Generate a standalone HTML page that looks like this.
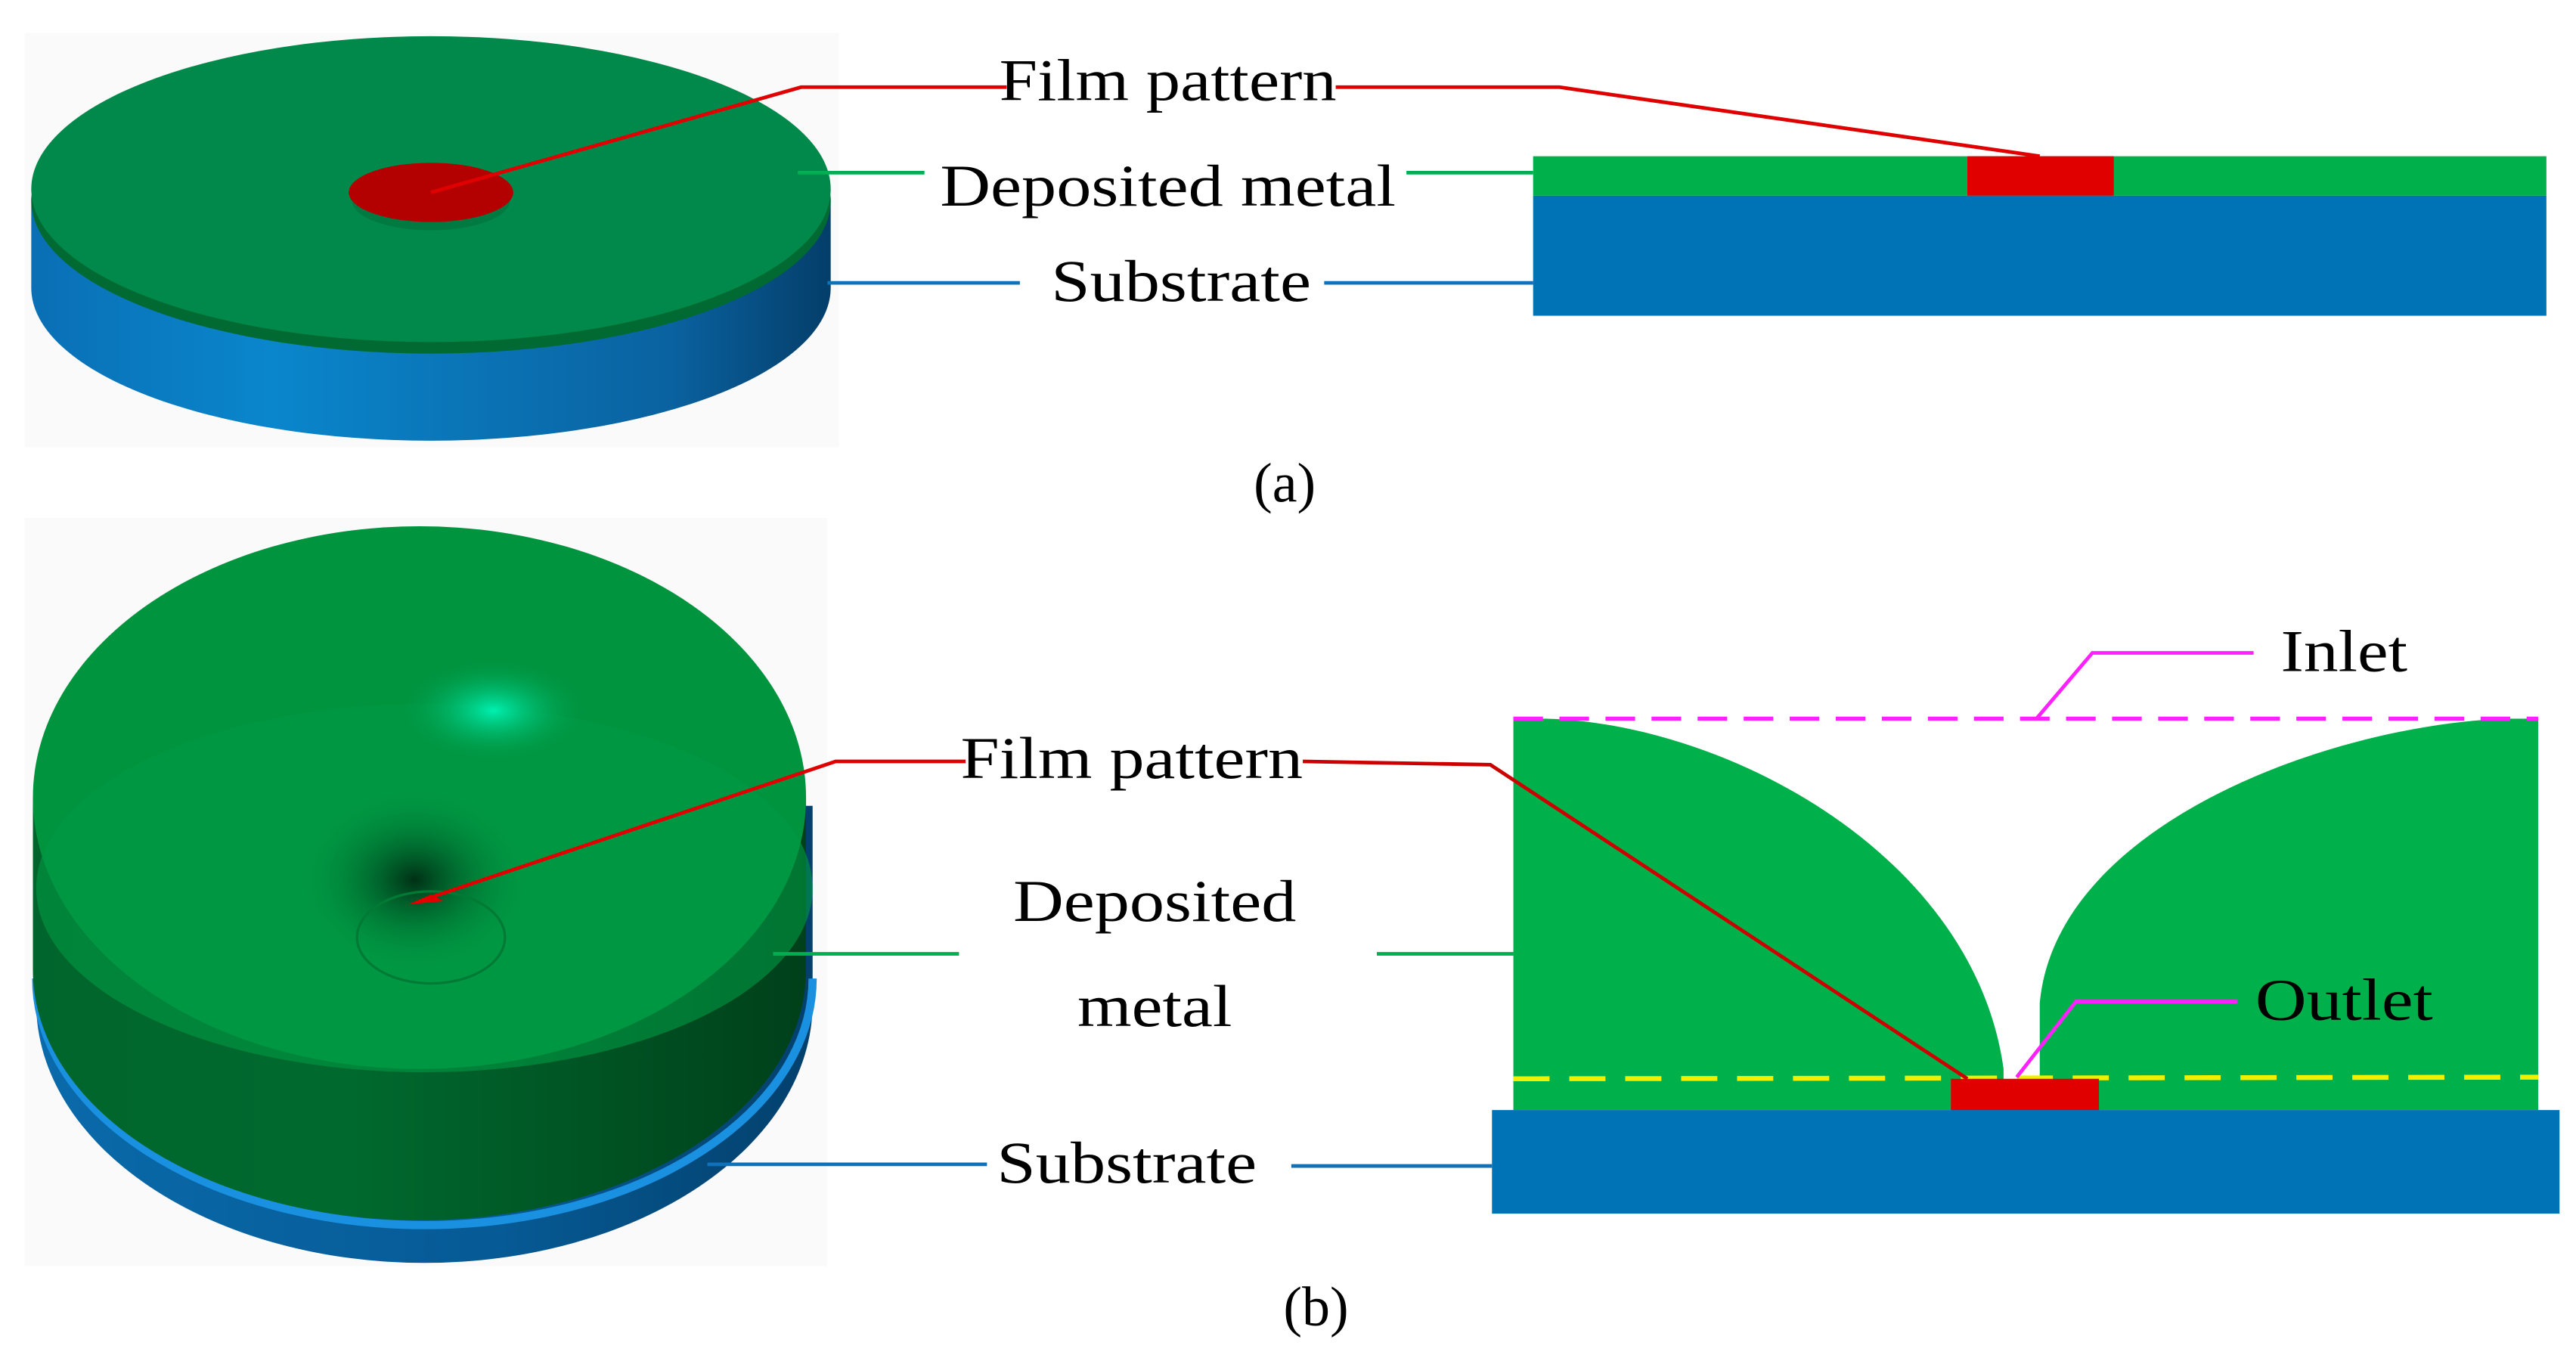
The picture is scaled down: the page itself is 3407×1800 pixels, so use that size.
<!DOCTYPE html>
<html><head><meta charset="utf-8"><style>
html,body{margin:0;padding:0;background:#fff;}
svg{display:block;}
text{font-family:"Liberation Serif",serif;fill:#000;}
</style></head><body>
<svg width="3407" height="1800" viewBox="0 0 1566 827.6" preserveAspectRatio="none" xmlns="http://www.w3.org/2000/svg">
<defs>
<linearGradient id="bsA" x1="0" x2="1"><stop offset="0" stop-color="#0a6fb5"/><stop offset="0.3" stop-color="#0a86cc"/><stop offset="0.8" stop-color="#0a62a0"/><stop offset="1" stop-color="#043e6a"/></linearGradient>
<linearGradient id="gsB" x1="0" x2="1"><stop offset="0" stop-color="#00652c"/><stop offset="0.4" stop-color="#006a2e"/><stop offset="1" stop-color="#00401a"/></linearGradient>
<linearGradient id="bsB" x1="0" x2="1"><stop offset="0" stop-color="#0a6aaa"/><stop offset="0.6" stop-color="#065a95"/><stop offset="1" stop-color="#03406c"/></linearGradient>
<radialGradient id="hl" cx="0.5" cy="0.5" r="0.5"><stop offset="0" stop-color="#00f0b0"/><stop offset="1" stop-color="#00a050" stop-opacity="0"/></radialGradient>
<radialGradient id="dk" cx="0.5" cy="0.5" r="0.5"><stop offset="0" stop-color="#003015"/><stop offset="1" stop-color="#009240" stop-opacity="0"/></radialGradient>
</defs>
<!-- (a) left bg -->
<rect x="15" y="20" width="495" height="252" fill="#fafafa"/>
<path d="M19,120 L19,175 A243,93 0 0 0 505,175 L505,120 Z" fill="url(#bsA)"/>
<ellipse cx="262" cy="122" rx="243" ry="93" fill="#006a32"/>
<ellipse cx="262" cy="115" rx="243" ry="93" fill="#00894a"/>
<ellipse cx="262" cy="122" rx="48" ry="18" fill="#007a40"/>
<ellipse cx="262" cy="117" rx="50" ry="18" fill="#b30000"/>
<!-- (a) right -->
<rect x="932" y="95" width="616" height="24" fill="#00b04a"/>
<rect x="1196" y="95" width="89" height="24" fill="#e00000"/>
<rect x="932" y="119" width="616" height="73" fill="#0073b6"/>
<g fill="none" stroke-width="2.2">
<polyline points="262,117 487,53 612,53" stroke="#e00000"/>
<polyline points="812,53 948,53 1240,95" stroke="#e00000"/>
<line x1="485" y1="105" x2="562" y2="105" stroke="#00b050"/>
<line x1="855" y1="105" x2="932" y2="105" stroke="#00b050"/>
<line x1="503" y1="172" x2="620" y2="172" stroke="#1070b8"/>
<line x1="805" y1="172" x2="932" y2="172" stroke="#1070b8"/>
</g>
<text x="710" y="61" font-size="36" text-anchor="middle" textLength="205" lengthAdjust="spacingAndGlyphs">Film pattern</text>
<text x="710" y="125" font-size="36" text-anchor="middle" textLength="277" lengthAdjust="spacingAndGlyphs">Deposited metal</text>
<text x="718" y="183" font-size="36" text-anchor="middle" textLength="158" lengthAdjust="spacingAndGlyphs">Substrate</text>
<text x="781" y="305" font-size="34" text-anchor="middle">(a)</text>
<!-- (b) left -->
<rect x="15" y="315" width="488" height="455" fill="#fafafa"/>
<path d="M22,490 L22,610 A236,158 0 0 0 494,610 L494,490 Z" fill="url(#bsB)"/>
<path d="M22,595 A236,150 0 0 0 494,595" fill="none" stroke="#1a90e0" stroke-width="5"/>
<path d="M20,485 L20,590 A235,152 0 0 0 490,590 L490,485 Z" fill="url(#gsB)"/>
<ellipse cx="255" cy="485" rx="235" ry="165" fill="#00943f"/>
<ellipse cx="258" cy="540" rx="236" ry="112" fill="#009a44" opacity="0.6"/>
<ellipse cx="300" cy="432" rx="55" ry="30" fill="url(#hl)"/>
<ellipse cx="252" cy="535" rx="70" ry="55" fill="url(#dk)"/>
<ellipse cx="262" cy="570" rx="45" ry="28" fill="none" stroke="#007a35" stroke-width="1.5"/>
<path d="M248,550 L262,544 L270,548 Z" fill="#e00000"/>
<!-- (b) right -->
<path d="M920,437 L940,437 C1050,440 1200,520 1218,650 L1218,675 L920,675 Z" fill="#00b04a"/>
<path d="M1543,437 L1525,437 C1420,440 1250,500 1240,610 L1240,675 L1543,675 Z" fill="#00b04a"/>
<line x1="920" y1="437" x2="1543" y2="437" stroke="#ff20ff" stroke-width="2.5" stroke-dasharray="18,10"/>
<line x1="920" y1="656" x2="1543" y2="655" stroke="#f0f000" stroke-width="3" stroke-dasharray="22,12"/>
<rect x="1186" y="656" width="90" height="20" fill="#e00000"/>
<rect x="907" y="675" width="649" height="63" fill="#0073b6"/>
<g fill="none" stroke-width="2.2">
<polyline points="255,548 508,463 587,463" stroke="#e00000"/>
<polyline points="792,463 906,465 1196,656" stroke="#cc0000"/>
<line x1="470" y1="580" x2="583" y2="580" stroke="#00b050"/>
<line x1="837" y1="580" x2="920" y2="580" stroke="#00b050"/>
<line x1="430" y1="708" x2="600" y2="708" stroke="#1070b8"/>
<line x1="785" y1="709" x2="907" y2="709" stroke="#1070b8"/>
<polyline points="1238,437 1272,397 1370,397" stroke="#ff20ff"/>
<polyline points="1226,655 1262,609 1360,609" stroke="#ff20ff"/>
</g>
<text x="688" y="473" font-size="36" text-anchor="middle" textLength="208" lengthAdjust="spacingAndGlyphs">Film pattern</text>
<text x="702" y="560" font-size="36" text-anchor="middle" textLength="172" lengthAdjust="spacingAndGlyphs">Deposited</text>
<text x="702" y="624" font-size="36" text-anchor="middle" textLength="94" lengthAdjust="spacingAndGlyphs">metal</text>
<text x="685" y="719" font-size="36" text-anchor="middle" textLength="158" lengthAdjust="spacingAndGlyphs">Substrate</text>
<text x="1425" y="408" font-size="36" text-anchor="middle" textLength="77" lengthAdjust="spacingAndGlyphs">Inlet</text>
<text x="1425" y="620" font-size="36" text-anchor="middle" textLength="108" lengthAdjust="spacingAndGlyphs">Outlet</text>
<text x="800" y="806" font-size="34" text-anchor="middle">(b)</text>
</svg>
</body></html>
